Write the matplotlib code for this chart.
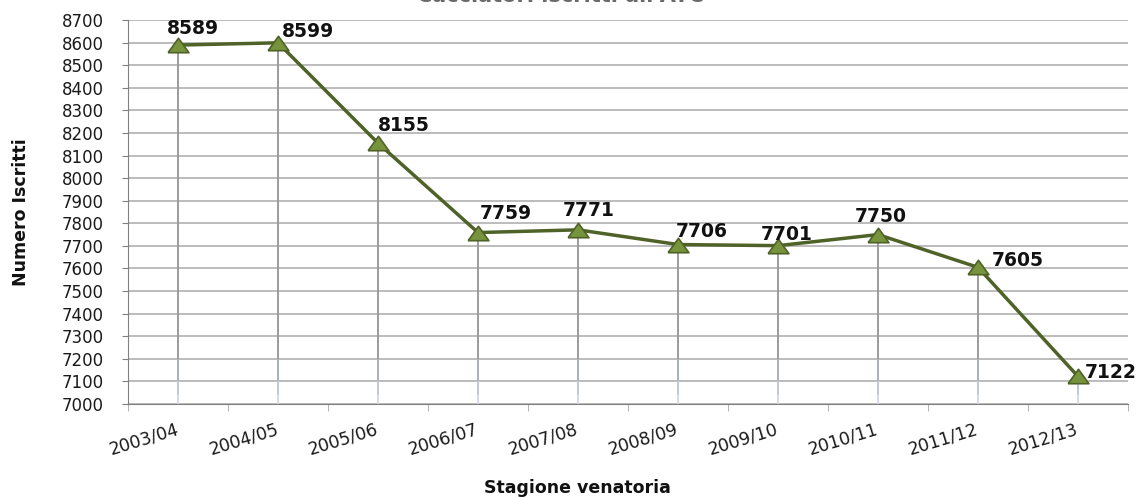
import matplotlib.pyplot as plt
import numpy as np

plt.rcParams['font.family'] = ['DejaVu Sans']

stagioni = ['2003/04', '2004/05', '2005/06', '2006/07', '2007/08',
            '2008/09', '2009/10', '2010/11', '2011/12', '2012/13']
iscritti = [8589, 8599, 8155, 7759, 7771, 7706, 7701, 7750, 7605, 7122]
yticks = list(range(7000, 8701, 100))

# label offsets (pixels) of the label centre from the point
label_off = [(15, 17), (30, 11), (26, 18), (28, 19), (11, 19),
             (24, 13), (9, 11), (3, 18), (40, 7), (33, 4)]

W, H = 1142, 497
fig = plt.figure(figsize=(W / 100, H / 100), dpi=100)
ax = fig.add_axes([128 / W, 1 - 404 / H, 1000 / W, 384 / H])

x = np.arange(len(stagioni))
# drop lines, gray fading to pale blue near the bottom
ax.vlines(x, 7000, iscritti, color='#9c9c9c', lw=1.4, zorder=2)
ax.vlines(x, 7000, np.minimum(iscritti, 7200), color='#adb1c0', lw=1.4, zorder=2)
ax.vlines(x, 7000, np.minimum(iscritti, 7100), color='#c4c8da', lw=1.4, zorder=2)
ax.vlines(x, 7000, np.minimum(iscritti, 7040), color='#d8dcef', lw=1.4, zorder=2)

tri = [(-1.3, -0.9), (1.3, -0.9), (0, 0.9), (-1.3, -0.9)]
ax.plot(x, iscritti, color='#4f6228', lw=2.5, marker=tri, markersize=15,
        markerfacecolor='#77933c', markeredgecolor='#4f6228', markeredgewidth=1.2, zorder=3)

for xi, v, (dx, dy) in zip(x, iscritti, label_off):
    ax.annotate(str(v), (xi, v), xytext=(dx, dy), textcoords='offset pixels',
                ha='center', va='center', fontsize=13.5, fontweight='bold', color='#111111')

ax.set_xlim(-0.5, len(stagioni) - 0.5)
ax.set_ylim(7000, 8700)
ax.set_yticks(yticks)
ax.set_yticklabels([str(t) for t in yticks], fontsize=12, color='#1a1a1a')
ax.yaxis.grid(True, color='#b0b0b0', lw=1.2)
ax.set_axisbelow(True)

ax.set_xticks(x)
ax.set_xticklabels(stagioni, rotation=17, fontsize=12.5, ha='right', va='center',
                   rotation_mode='anchor', color='#1a1a1a')
ax.tick_params(axis='x', length=0, pad=18)
ax.set_xticks(np.arange(-0.5, len(stagioni)), minor=True)
ax.tick_params(axis='x', which='minor', length=5, color='#a6a6a6')
ax.tick_params(axis='y', length=4.5, color='#808080', pad=13)

for s in ['top', 'right']:
    ax.spines[s].set_visible(False)
ax.spines['left'].set_color('#808080')
ax.spines['bottom'].set_color('#808080')

fig.text(21 / W, 1 - 212 / H, 'Numero Iscritti', rotation=90, ha='center', va='center',
         fontsize=12.5, fontweight='bold', color='#111111')
fig.text(577 / W, 1 - 488 / H, 'Stagione venatoria', ha='center', va='center',
         fontsize=12.5, fontweight='bold', color='#111111')

# title is mostly cut off by the top edge in the reference
fig.text(560 / W, 1 - 1.5 / H, "Cacciatori iscritti all'ATC", ha='center', va='baseline',
         fontsize=15, fontweight='bold', color='#6a6a6a')

fig.savefig('out.png', dpi=100)
